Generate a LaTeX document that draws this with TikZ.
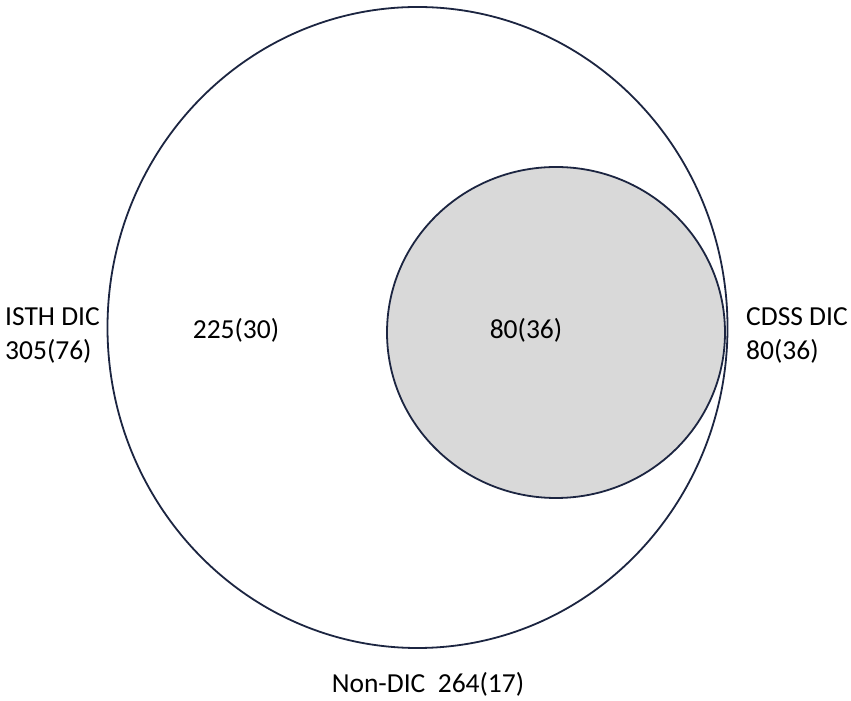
\documentclass[tikz,border=0pt]{standalone}
\usepackage{fontspec}
\setmainfont{Carlito}
\definecolor{navy}{HTML}{1C2541}
\definecolor{lightgrey}{HTML}{D9D9D9}
\begin{document}
\begin{tikzpicture}[x=1pt,y=1pt,
  ring/.style={draw=navy,line width=1.8pt},
  lab/.style={font=\fontsize{27.5}{34}\selectfont,text=black,inner sep=0pt}]
\useasboundingbox (0,0) rectangle (851,701);
\fill[white] (0,0) rectangle (851,701);
\draw[ring] (417.5,373.5) ellipse [x radius=310, y radius=320.5];
\draw[ring,fill=lightgrey] (556,368.5) ellipse [x radius=169, y radius=165.5];
\node[lab,align=left,anchor=west] (isth) at (5,366) {ISTH DIC\\305(76)};
\node[lab,align=left,anchor=west] (cdss) at (746,366) {CDSS DIC\\80(36)};
\node[lab] (a) at (236,371) {225(30)};
\node[lab] (b) at (526,371) {80(36)};
\node[lab] (c) at (428,17) {Non-DIC\ \ 264(17)};
\end{tikzpicture}
\end{document}
